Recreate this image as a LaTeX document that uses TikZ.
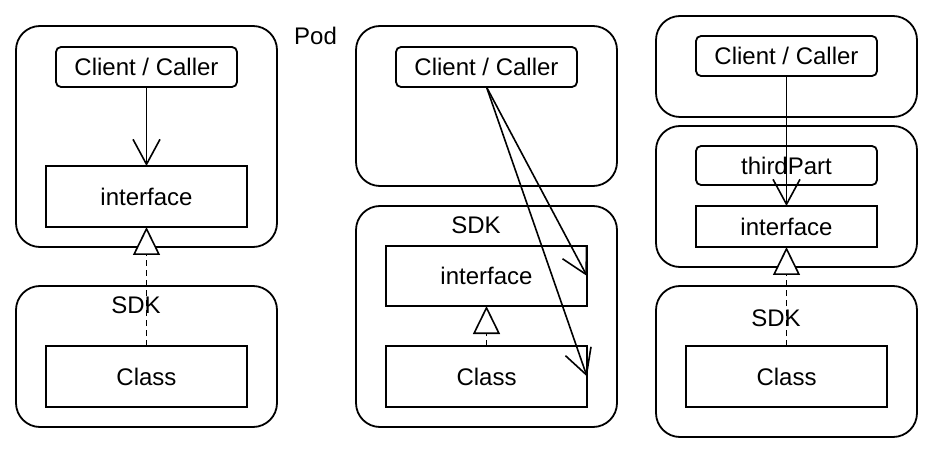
\documentclass[tikz,border=0pt]{standalone}
\usepackage{fontspec}
\setmainfont{Liberation Sans}
\usetikzlibrary{arrows.meta}
\begin{document}
\begin{tikzpicture}[x=1pt,y=-1pt,
  every node/.style={font=\fontsize{24}{28}\selectfont, inner sep=0pt, outer sep=0pt},
  container/.style={draw, line width=1.8pt, rounded corners=24pt},
  rbox/.style={draw, line width=1.8pt, rounded corners=5pt},
  sbox/.style={draw, line width=1.8pt},
  call/.style={line width=1.6pt, -{Straight Barb[length=25pt,width=27pt]}},
  impl/.style={line width=1.6pt, dash pattern=on 6pt off 4pt, -{Triangle[length=28pt,width=27pt,fill=white]}}
]
\useasboundingbox (0,0) rectangle (934,454);
% containers
\node[container, minimum width=261pt, minimum height=221pt] (L1) at (146.5,136.5) {};
\node[container, minimum width=261pt, minimum height=141pt] (L2) at (146.5,356.5) {};
\node[container, minimum width=261pt, minimum height=160pt] (M1) at (486.5,106) {};
\node[container, minimum width=261pt, minimum height=221pt] (M2) at (486.5,316.5) {};
\node[container, minimum width=261pt, minimum height=101pt] (R1) at (786.5,66.5) {};
\node[container, minimum width=261pt, minimum height=141pt] (R2) at (786.5,196.5) {};
\node[container, minimum width=261pt, minimum height=151pt] (R3) at (786.5,361.5) {};
% labels
\node (pod) at (315.5,36) {Pod};
\node (sdkL) at (136,305) {SDK};
\node (sdkM) at (476,225) {SDK};
\node (sdkR) at (776,318) {SDK};
% left column
\node[rbox, minimum width=181pt, minimum height=40pt] (Lc) at (146.5,67) {Client / Caller};
\node[sbox, minimum width=201pt, minimum height=61pt] (Li) at (146.5,196.5) {interface};
\node[sbox, minimum width=201pt, minimum height=61pt] (Lk) at (146.5,376.5) {Class};
% middle column
\node[rbox, minimum width=181pt, minimum height=40pt] (Mc) at (486.5,67) {Client / Caller};
\node[sbox, minimum width=201pt, minimum height=60pt] (Mi) at (486.5,276) {interface};
\node[sbox, minimum width=201pt, minimum height=61pt] (Mk) at (486.5,376.5) {Class};
% right column
\node[rbox, minimum width=181pt, minimum height=40pt] (Rc) at (786.5,56) {Client / Caller};
\node[rbox, minimum width=181pt, minimum height=39pt] (Rt) at (786.5,165.5) {thirdPart};
\node[sbox, minimum width=181pt, minimum height=41pt] (Ri) at (786.5,226.5) {interface};
\node[sbox, minimum width=201pt, minimum height=61pt] (Rk) at (786.5,376.5) {Class};
% connectors
\draw[call] (Lc.south) -- (Li.north);
\draw[impl] (Lk.north) -- (Li.south);
\draw[call] (Mc.south) -- (Mi.east);
\draw[call] (Mc.south) -- (Mk.east);
\draw[impl] (Mk.north) -- (Mi.south);
\draw[call] (Rc.south) -- (Ri.north);
\draw[impl] (Rk.north) -- (Ri.south);
\end{tikzpicture}
\end{document}
